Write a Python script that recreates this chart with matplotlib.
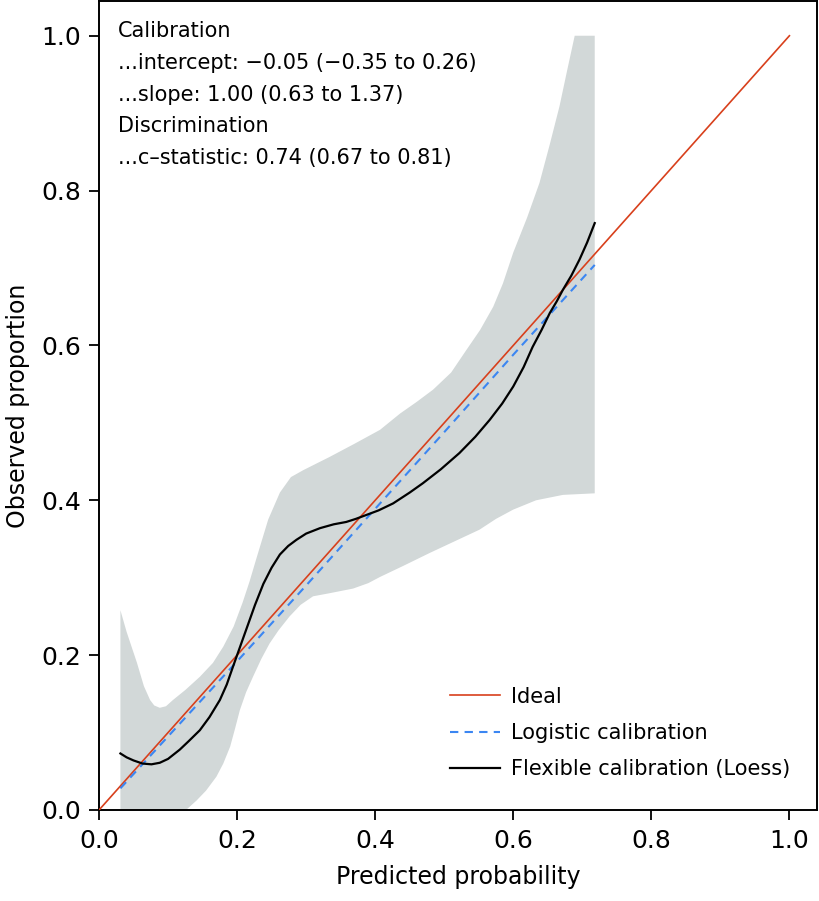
import matplotlib
matplotlib.use("Agg")
import matplotlib.pyplot as plt

plt.rcParams['font.family'] = ['DejaVu Sans']

# ideal line
ideal_x = [0.0, 1.0]
ideal_y = [0.0, 1.0]

# logistic calibration
logit_x = [0.031, 0.1, 0.2, 0.3, 0.4, 0.5, 0.6, 0.718]
logit_y = [0.028, 0.095, 0.192, 0.290, 0.389, 0.488, 0.588, 0.704]

# flexible calibration (loess)
loess_x = [0.031, 0.04, 0.05, 0.063, 0.076, 0.088, 0.1, 0.117, 0.13, 0.146,
           0.16, 0.175, 0.185, 0.194, 0.204, 0.214, 0.226, 0.238, 0.25, 0.262,
           0.274, 0.286, 0.30, 0.32, 0.34, 0.358, 0.372, 0.387, 0.405, 0.426,
           0.45, 0.469, 0.495, 0.522, 0.545, 0.566, 0.584, 0.60, 0.615, 0.628,
           0.641, 0.653, 0.663, 0.672, 0.684, 0.696, 0.707, 0.718]
loess_y = [0.073, 0.068, 0.064, 0.060, 0.059, 0.061, 0.066, 0.078, 0.089, 0.103,
           0.120, 0.142, 0.162, 0.185, 0.210, 0.235, 0.265, 0.292, 0.313, 0.330,
           0.341, 0.349, 0.357, 0.364, 0.369, 0.372, 0.376, 0.381, 0.387, 0.396,
           0.410, 0.422, 0.440, 0.461, 0.482, 0.504, 0.525, 0.547, 0.572, 0.598,
           0.620, 0.642, 0.657, 0.672, 0.690, 0.711, 0.733, 0.758]

# confidence band
upper_x = [0.031, 0.04, 0.055, 0.065, 0.074, 0.08, 0.088, 0.097, 0.107, 0.125,
           0.146, 0.165, 0.180, 0.195, 0.208, 0.218, 0.228, 0.245, 0.262, 0.278,
           0.296, 0.334, 0.37, 0.407, 0.436, 0.46, 0.484, 0.51, 0.532, 0.552,
           0.571, 0.585, 0.60, 0.62, 0.638, 0.653, 0.667, 0.678, 0.689, 0.718]
upper_y = [0.258, 0.230, 0.190, 0.160, 0.142, 0.135, 0.132, 0.134, 0.142, 0.155,
           0.172, 0.190, 0.211, 0.237, 0.268, 0.295, 0.325, 0.375, 0.410, 0.430,
           0.439, 0.456, 0.473, 0.491, 0.512, 0.527, 0.543, 0.565, 0.594, 0.620,
           0.650, 0.680, 0.720, 0.765, 0.810, 0.860, 0.909, 0.955, 1.0, 1.0]
lower_x = [0.031, 0.126, 0.141, 0.155, 0.170, 0.180, 0.190, 0.197, 0.204, 0.213,
           0.223, 0.235, 0.247, 0.260, 0.276, 0.292, 0.310, 0.334, 0.368, 0.39,
           0.407, 0.44, 0.479, 0.515, 0.551, 0.575, 0.600, 0.633, 0.672, 0.718]
lower_y = [0.0, 0.0, 0.012, 0.025, 0.043, 0.060, 0.082, 0.105, 0.129, 0.152,
           0.172, 0.195, 0.215, 0.232, 0.250, 0.265, 0.276, 0.280, 0.286, 0.293,
           0.301, 0.315, 0.332, 0.347, 0.362, 0.376, 0.388, 0.400, 0.407, 0.409]

stats_lines = ["Calibration",
               "...intercept: \u22120.05 (\u22120.35 to 0.26)",
               "...slope: 1.00 (0.63 to 1.37)",
               "Discrimination",
               "...c\u2013statistic: 0.74 (0.67 to 0.81)"]

fig = plt.figure(figsize=(8.19, 9.01), dpi=100)
ax = fig.add_axes([0.1209, 0.101, 0.8767, 0.898])

ax.fill(upper_x + lower_x[::-1], upper_y + lower_y[::-1], color='#d2d8d8', lw=0, zorder=1)
ax.plot(ideal_x, ideal_y, color='#d8401c', lw=1.2, label='Ideal', zorder=3)
ax.plot(logit_x, logit_y, color='#3b86f2', lw=1.5, ls=(0, (4, 3)), label='Logistic calibration', zorder=4)
ax.plot(loess_x, loess_y, color='black', lw=1.6, label='Flexible calibration (Loess)', zorder=5)

ax.set_xlim(0, 1.04)
ax.set_ylim(0, 1.045)
ax.set_xticks([0.0, 0.2, 0.4, 0.6, 0.8, 1.0])
ax.set_yticks([0.0, 0.2, 0.4, 0.6, 0.8, 1.0])
ax.set_xticklabels(['0.0', '0.2', '0.4', '0.6', '0.8', '1.0'])
ax.set_yticklabels(['0.0', '0.2', '0.4', '0.6', '0.8', '1.0'])
ax.tick_params(axis='both', direction='out', length=7, width=1.3, labelsize=18)
ax.tick_params(axis='x', pad=7)
ax.tick_params(axis='y', pad=6)
for s in ax.spines.values():
    s.set_linewidth(1.4)

ax.set_xlabel('Predicted probability', fontsize=17, labelpad=8)
ax.set_ylabel('Observed proportion', fontsize=17, labelpad=8)

ys = [1.006, 0.965, 0.924, 0.884, 0.842]
for t, yy in zip(stats_lines, ys):
    ax.text(0.0275, yy, t, fontsize=15, va='center', ha='left')

ax.legend(loc='center left', bbox_to_anchor=(0.508, 0.0995), bbox_transform=ax.transData,
          frameon=False, fontsize=15, handlelength=2.4, handletextpad=0.55,
          labelspacing=0.78, borderpad=0, borderaxespad=0)

fig.savefig('out.png', dpi=100)
